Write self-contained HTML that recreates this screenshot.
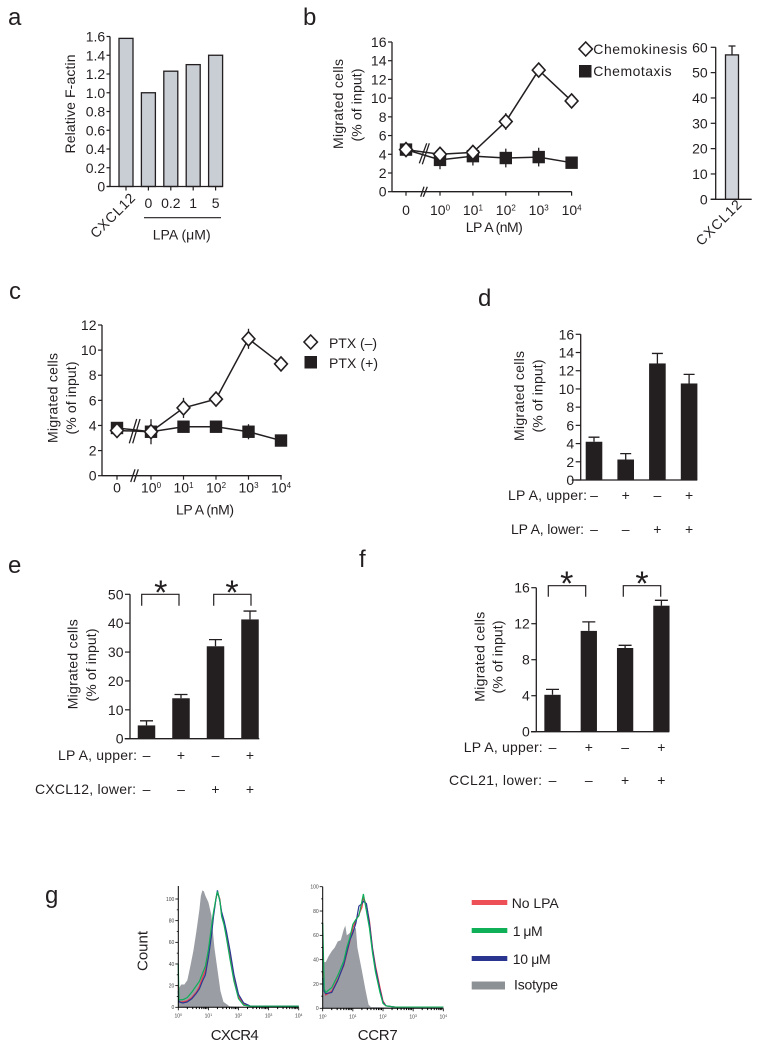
<!DOCTYPE html>
<html lang="en">
<head>
<meta charset="utf-8">
<title>LPA migration figure</title>
<style>
html,body{margin:0;padding:0;background:#fff;width:773px;height:1050px;overflow:hidden}
svg{display:block;font-family:"Liberation Sans",sans-serif;filter:blur(.35px)}
text{fill:#231f20;font-size:14px}
.letter{font-size:24px}
.mid{text-anchor:middle}
.end{text-anchor:end}
</style>
</head>
<body>
<svg id="figure" xmlns="http://www.w3.org/2000/svg" width="773" height="1050" viewBox="0 0 773 1050">
  <g id="panel-a">
    <text class="letter" x="8" y="25">a</text>
    <text class="mid" transform="translate(75,104) rotate(-90)" textLength="99">Relative F-actin</text>
    <line x1="144" x2="221" y1="217.7" y2="217.7" stroke="#231f20" stroke-width="1.2"/>
    <text class="mid" x="181.7" y="239.3" textLength="58">LPA (μM)</text>
  </g>
  <g id="panel-b">
    <text class="letter" x="303" y="25">b</text>
    <text class="mid" transform="translate(343,104) rotate(-90)" textLength="90">Migrated cells</text>
    <text class="mid" transform="translate(361.7,105) rotate(-90)" textLength="73">(% of input)</text>
    <text class="mid" x="494.3" y="232" textLength="57">LP A (nM)</text>
    <polygon points="585.7,42 592.4,49 585.7,56 579,49" fill="#fff" stroke="#231f20" stroke-width="1.6"/>
    <text x="593.3" y="54" textLength="94">Chemokinesis</text>
    <rect x="579" y="65" width="12.5" height="12.5" fill="#231f20"/>
    <text x="593.3" y="76" textLength="78.3">Chemotaxis</text>
  </g>
  <g id="panel-b-inset"></g>
  <g id="panel-c">
    <text class="letter" x="9" y="299">c</text>
    <text class="mid" transform="translate(57.3,398) rotate(-90)" textLength="90">Migrated cells</text>
    <text class="mid" transform="translate(76,398) rotate(-90)" textLength="73">(% of input)</text>
    <text class="mid" x="205" y="514.3" textLength="58">LP A (nM)</text>
    <polygon points="310.7,335 317.4,342 310.7,349 304,342" fill="#fff" stroke="#231f20" stroke-width="1.6"/>
    <text x="329" y="348" textLength="48">PTX (–)</text>
    <rect x="304.5" y="356" width="12.5" height="12.5" fill="#231f20"/>
    <text x="329" y="368" textLength="49">PTX (+)</text>
  </g>
  <g id="panel-d">
    <text class="letter" x="478" y="306">d</text>
    <text class="mid" transform="translate(524,396) rotate(-90)" textLength="90">Migrated cells</text>
    <text class="mid" transform="translate(542.7,396) rotate(-90)" textLength="73">(% of input)</text>
    <text class="end" x="587" y="500" textLength="79">LP A, upper:</text>
    <text class="end" x="584" y="534" textLength="73">LP A, lower:</text>
  </g>
  <g id="panel-e">
    <text class="letter" x="8" y="573">e</text>
    <text class="mid" transform="translate(77.7,664.3) rotate(-90)" textLength="90">Migrated cells</text>
    <text class="mid" transform="translate(96,665) rotate(-90)" textLength="73">(% of input)</text>
    <text class="end" x="137" y="760" textLength="79">LP A, upper:</text>
    <text class="end" x="136" y="794" textLength="101">CXCL12, lower:</text>
    <path d="M141.7,605.7V594.3H179V605.7" fill="none" stroke="#231f20" stroke-width="1.2"/>
    <path d="M213.7,605.7V594.3H251V605.7" fill="none" stroke="#231f20" stroke-width="1.2"/>
    <text class="mid" x="160.7" y="604" style="font-size:34px">*</text>
    <text class="mid" x="232" y="604" style="font-size:34px">*</text>
  </g>
  <g id="panel-f">
    <text class="letter" x="359" y="567">f</text>
    <text class="mid" transform="translate(484.3,656.7) rotate(-90)" textLength="90">Migrated cells</text>
    <text class="mid" transform="translate(502.7,657) rotate(-90)" textLength="73">(% of input)</text>
    <text class="end" x="542.7" y="752" textLength="79">LP A, upper:</text>
    <text class="end" x="542" y="785" textLength="93">CCL21, lower:</text>
    <path d="M548.3,596.7V585.7H585.7V596.7" fill="none" stroke="#231f20" stroke-width="1.2"/>
    <path d="M623.3,596.7V585.7H660.7V596.7" fill="none" stroke="#231f20" stroke-width="1.2"/>
    <text class="mid" x="566.7" y="595" style="font-size:34px">*</text>
    <text class="mid" x="642" y="595" style="font-size:34px">*</text>
  </g>
  <g id="panel-g">
    <text class="letter" x="45" y="903">g</text>
    <text class="mid" transform="translate(147.5,951) rotate(-90)" style="font-size:15px" textLength="40">Count</text>
    <text class="mid" x="234.7" y="1040" style="font-size:15px" textLength="48">CXCR4</text>
    <text class="mid" x="377.7" y="1040" style="font-size:15px" textLength="40">CCR7</text>
    <rect x="471.7" y="900" width="35.6" height="5" fill="#ee5058"/>
    <text x="511.7" y="908" textLength="47">No LPA</text>
    <rect x="471.7" y="928" width="35.6" height="5" fill="#0fb058"/>
    <text x="512.7" y="936" textLength="30">1 μM</text>
    <rect x="471.7" y="956" width="35.6" height="5" fill="#2a3590"/>
    <text x="512.7" y="964" textLength="38">10 μM</text>
    <rect x="471.7" y="981.5" width="33.3" height="8" fill="#8c9196"/>
    <text x="514" y="989.3" textLength="44">Isotype</text>
  </g>
</svg>
<script>
// ---------- Panel a ----------
const aCategories = ['CXCL12', '0', '0.2', '1', '5'];
const aValues = [1.58, 1.0, 1.23, 1.30, 1.40];
const aTicks = [0, 0.2, 0.4, 0.6, 0.8, 1.0, 1.2, 1.4, 1.6];
const aTickLabels = ['0', '0.2', '0.4', '0.6', '0.8', '1.0', '1.2', '1.4', '1.6'];
// ---------- Panel b ----------
const doseLabels = ['0', '10^0', '10^1', '10^2', '10^3', '10^4'];
const bTicks = [0, 2, 4, 6, 8, 10, 12, 14, 16];
const bChemokinesis = [4.5, 4.0, 4.2, 7.5, 13.0, 9.7];
const bChemokinesisErr = [0.4, 0.3, 0.4, 0.9, 0.5, 0.3];
const bChemotaxis = [4.5, 3.4, 3.8, 3.6, 3.7, 3.1];
const bChemotaxisErr = [0.4, 1.0, 1.0, 1.0, 1.0, 0.2];
// ---------- Panel b inset ----------
const insetTicks = [0, 10, 20, 30, 40, 50, 60];
const insetValues = [57];
const insetErr = [3.5];
const insetCategories = ['CXCL12'];
// ---------- Panel c ----------
const cTicks = [0, 2, 4, 6, 8, 10, 12];
const cPtxMinus = [3.6, 3.5, 5.4, 6.1, 10.9, 8.9];
const cPtxMinusErr = [0.3, 1.0, 0.8, 0.6, 0.8, 0.2];
const cPtxPlus = [3.8, 3.5, 3.9, 3.9, 3.5, 2.8];
const cPtxPlusErr = [0.2, 0.4, 0.3, 0.3, 0.6, 0.2];
// ---------- Panel d ----------
const dTicks = [0, 2, 4, 6, 8, 10, 12, 14, 16];
const dValues = [4.2, 2.25, 12.8, 10.6];
const dErr = [0.5, 0.65, 1.1, 1.0];
const dUpper = ['–', '+', '–', '+'];
const dLower = ['–', '–', '+', '+'];
// ---------- Panel e ----------
const eTicks = [0, 10, 20, 30, 40, 50];
const eValues = [4.6, 14, 32, 41.3];
const eErr = [1.6, 1.3, 2.3, 2.9];
const eUpper = ['–', '+', '–', '+'];
const eLower = ['–', '–', '+', '+'];
// ---------- Panel f ----------
const fTicks = [0, 4, 8, 12, 16];
const fValues = [4.1, 11.2, 9.3, 14];
const fErr = [0.6, 1.0, 0.3, 0.6];
const fUpper = ['–', '+', '–', '+'];
const fLower = ['–', '–', '+', '+'];
// ---------- Panel g: histograms (log10 intensity, % of max count) ----------
const histXTicks = [0, 1, 2, 3, 4];
const histYTicks = [0, 20, 40, 60, 80, 100];
const cxcr4IsoBins = [0, 0.1, 0.2, 0.3, 0.4, 0.5, 0.6, 0.7, 0.75, 0.8, 0.85, 0.9, 1.0, 1.1, 1.2, 1.3, 1.4, 1.5, 1.7, 2, 4];
const cxcr4Iso = [17, 21, 21, 25, 38, 52, 70, 90, 103, 108, 107, 103, 97, 85, 55, 35, 15, 5, 1, 0.5, 0];
const cxcr4Bins = [0, 0.02, 0.15, 0.3, 0.45, 0.6, 0.7, 0.8, 0.9, 1.0, 1.1, 1.17, 1.25, 1.3, 1.38, 1.44, 1.52, 1.6, 1.72, 1.85, 2.0, 2.17, 2.4, 4];
const cxcr4Red = [20, 5, 5, 6, 9, 14, 19, 27, 34, 50, 70, 86, 100, 106, 100, 85, 78, 66, 48, 26, 10, 3, 1, 1];
const cxcr4Blue = [15, 5, 4, 5, 8, 13, 17, 24, 30, 46, 66, 84, 100, 108, 98, 88, 80, 70, 52, 30, 12, 4, 1, 1];
const cxcr4Green = [40, 7, 7, 9, 14, 20, 24, 31, 38, 53, 74, 88, 100, 107, 99, 84, 76, 64, 44, 24, 8, 2, 1, 1];
const ccr7IsoBins = [0, 0.1, 0.2, 0.3, 0.4, 0.5, 0.6, 0.7, 0.75, 0.8, 0.9, 1.0, 1.1, 1.15, 1.3, 1.42, 1.52, 1.6, 4];
const ccr7Iso = [38, 38, 43, 47, 50, 55, 56, 65, 68, 60, 62, 65, 66, 50, 31, 15, 3, 1, 0];
const ccr7Bins = [0, 0.05, 0.1, 0.3, 0.5, 0.7, 0.8, 0.9, 1.0, 1.1, 1.2, 1.3, 1.35, 1.45, 1.55, 1.65, 1.75, 1.9, 2.0, 2.1, 2.4, 4];
const ccr7Red = [30, 15, 11, 14, 24, 35, 45, 55, 66, 72, 77, 83, 91, 85, 72, 50, 35, 17, 6, 2, 1, 1];
const ccr7Blue = [25, 14, 12, 13, 23, 36, 46, 56, 62, 70, 84, 86, 88, 86, 70, 49, 33, 15, 5, 2, 1, 1];
const ccr7Green = [70, 16, 13, 17, 27, 39, 50, 58, 69, 73, 76, 88, 94, 80, 66, 46, 30, 13, 4, 2, 1, 1];

const NS = 'http://www.w3.org/2000/svg';
const INK = '#231f20';

function add(parent, tag, attrs, content) {
  const node = document.createElementNS(NS, tag);
  for (const k in attrs) node.setAttribute(k, attrs[k]);
  if (content !== undefined) node.textContent = content;
  parent.appendChild(node);
  return node;
}
function linear(d0, d1, r0, r1) {
  return function (v) { return r0 + (v - d0) * (r1 - r0) / (d1 - d0); };
}
function band(start, step) {
  return function (i) { return start + i * step; };
}
function doseScale(zero, first, step) {
  return function (i) { return i === 0 ? zero : first + (i - 1) * step; };
}

function drawYAxis(group, x, yScale, ticks, labels, tickLen, gap) {
  const top = yScale(ticks[ticks.length - 1]);
  const axis = add(group, 'line', { x1: x, x2: x, y1: top, y2: yScale(ticks[0]), stroke: INK, 'stroke-width': 1.3 });
  
  
  ticks.forEach(function (t, i) {
    const mark = add(group, 'line', { x1: x - tickLen, x2: x, y1: yScale(t), y2: yScale(t), stroke: INK, 'stroke-width': 1.2 });
    
    
    const lab = add(group, 'text', { x: x - tickLen - gap, y: yScale(t) + 5, class: 'end' }, labels[i]);
    
    
  });
}
function drawXAxisLine(group, x0, x1, y) {
  const axis = add(group, 'line', { x1: x0, x2: x1, y1: y, y2: y, stroke: INK, 'stroke-width': 1.3 });
  
  
}
function drawBars(group, values, errs, xScale, yScale, width, fill, stroke, cap) {
  const base = yScale(0);
  values.forEach(function (v, i) {
    const cx = xScale(i);
    if (errs) {
      const err = errs[i];
      const whisker = add(group, 'path', { d: 'M' + cx + ',' + yScale(v) + 'V' + yScale(v + err) + 'M' + (cx - cap / 2) + ',' + yScale(v + err) + 'H' + (cx + cap / 2), fill: 'none', stroke: INK, 'stroke-width': 1.3 });
      
      
    }
    const bar = add(group, 'rect', { x: cx - width / 2, y: yScale(v), width: width, height: base - yScale(v), fill: fill, stroke: stroke || 'none', 'stroke-width': stroke ? 1.3 : 0 });
    
    
  });
}
function drawSigns(group, signs, xScale, y) {
  signs.forEach(function (s, i) {
    const sign = add(group, 'text', { x: xScale(i), y: y, class: 'mid' }, s);
    
    
  });
}
function drawDoseTicks(group, labels, xScale, axisY, labelY) {
  labels.forEach(function (label, i) {
    const mark = add(group, 'line', { x1: xScale(i), x2: xScale(i), y1: axisY, y2: axisY + 4, stroke: INK, 'stroke-width': 1.2 });
    
    
    const parts = label.split('^');
    const lab = add(group, 'text', { x: xScale(i), y: labelY, class: 'mid' }, parts[0]);
    
    
    if (parts[1] !== undefined) {
      const sup = add(lab, 'tspan', { dy: -4.5, style: 'font-size:8px' }, parts[1]);
      
      
    }
  });
}
function drawBreak(group, d) {
  const mark = add(group, 'path', { d: d, fill: 'none', stroke: INK, 'stroke-width': 1.3 });
  
  
}
function drawSeriesLine(group, values, xScale, yScale) {
  const line = add(group, 'polyline', { points: values.map(function (v, i) { return xScale(i) + ',' + yScale(v); }).join(' '), fill: 'none', stroke: INK, 'stroke-width': 1.5 });
  
  
}
function drawErrs(group, values, errs, xScale, yScale) {
  values.forEach(function (v, i) {
    const whisker = add(group, 'line', { x1: xScale(i), x2: xScale(i), y1: yScale(v - errs[i]), y2: yScale(v + errs[i]), stroke: INK, 'stroke-width': 1.3 });
    
    
  });
}
function drawSquares(group, values, xScale, yScale) {
  values.forEach(function (v, i) {
    const sq = add(group, 'rect', { x: xScale(i) - 6.2, y: yScale(v) - 6.2, width: 12.4, height: 12.4, fill: INK });
    
    
  });
}
function drawDiamonds(group, values, xScale, yScale) {
  values.forEach(function (v, i) {
    const x = xScale(i), y = yScale(v);
    const d = add(group, 'polygon', { points: x + ',' + (y - 7) + ' ' + (x + 6.4) + ',' + y + ' ' + x + ',' + (y + 7) + ' ' + (x - 6.4) + ',' + y, fill: '#fff', stroke: INK, 'stroke-width': 1.6 });
    
    
  });
}
function histPath(bins, values, xScale, yScale) {
  return bins.map(function (b, i) { return (i ? 'L' : 'M') + xScale(b) + ',' + yScale(values[i]); }).join('');
}
function drawHistogram(group, xScale, yScale, isoBins, iso, bins, red, blue, green) {
  const area = add(group, 'path', { d: histPath(isoBins, iso, xScale, yScale) + 'L' + xScale(4) + ',' + yScale(0) + 'L' + xScale(0) + ',' + yScale(0) + 'Z', fill: '#9a9ea4' });
  
  
  const redLine = add(group, 'path', { d: histPath(bins, red, xScale, yScale), fill: 'none', stroke: '#e8384a', 'stroke-width': 1.2 });
  
  
  const blueLine = add(group, 'path', { d: histPath(bins, blue, xScale, yScale), fill: 'none', stroke: '#2b3a94', 'stroke-width': 1.2 });
  
  
  const greenLine = add(group, 'path', { d: histPath(bins, green, xScale, yScale), fill: 'none', stroke: '#0fae5a', 'stroke-width': 1.2 });
  
  
}
function drawHistAxes(group, xScale, yScale, axisTop) {
  const x0 = xScale(0), x1 = xScale(4), y0 = yScale(0);
  const yAxis = add(group, 'line', { x1: x0, x2: x0, y1: axisTop, y2: y0, stroke: '#000', 'stroke-width': 1 });
  
  
  const xAxis = add(group, 'line', { x1: x0, x2: x1, y1: y0, y2: y0, stroke: '#000', 'stroke-width': 1 });
  
  
  histYTicks.forEach(function (t) {
    const mark = add(group, 'line', { x1: x0 - 3, x2: x0, y1: yScale(t), y2: yScale(t), stroke: '#000', 'stroke-width': 0.8 });
    
    
    const lab = add(group, 'text', { x: x0 - 4, y: yScale(t) + 1.8, class: 'end', style: 'font-size:5px;fill:#444' }, String(t));
    
    
    if (t < 100) {
      const minor = add(group, 'line', { x1: x0 - 1.5, x2: x0, y1: yScale(t + 10), y2: yScale(t + 10), stroke: '#000', 'stroke-width': 0.8 });
      
      
    }
  });
  histXTicks.forEach(function (t) {
    const mark = add(group, 'line', { x1: xScale(t), x2: xScale(t), y1: y0, y2: y0 + 3, stroke: '#000', 'stroke-width': 0.8 });
    
    
    const lab = add(group, 'text', { x: xScale(t), y: y0 + 10, class: 'mid', style: 'font-size:5px;fill:#444' }, '10');
    
    
    const sup = add(lab, 'tspan', { dy: -1.5, style: 'font-size:3.5px' }, String(t));
    
    
    if (t < 4) {
      [0.3, 0.48, 0.6, 0.7, 0.78, 0.85, 0.9, 0.95].forEach(function (f) {
        const minor = add(group, 'line', { x1: xScale(t + f), x2: xScale(t + f), y1: y0, y2: y0 + 1.8, stroke: '#000', 'stroke-width': 1 });
        
        
      });
    }
  });
}

// ---- Panel a render ----
(function () {
  const g = document.getElementById('panel-a');
  const y = linear(0, 1.6, 186.5, 36.5);
  const x = band(126, 22.4);
  drawBars(g, aValues, null, x, y, 14, '#c9cdd4', INK, 0);
  drawYAxis(g, 110, y, aTicks, aTickLabels, 3.5, 1.3);
  drawXAxisLine(g, 107, 222.7, 186.5);
  aCategories.forEach(function (c, i) {
    const mark = add(g, 'line', { x1: x(i), x2: x(i), y1: 186.5, y2: 190.5, stroke: INK, 'stroke-width': 1.2 });
    
    
    if (i === 0) {
      const rot = add(g, 'text', { transform: 'translate(116,219) rotate(-45)', class: 'mid', textLength: 56.6 }, c);
      
      
    } else {
      const lab = add(g, 'text', { x: x(i), y: 208, class: 'mid' }, c);
      
      
    }
  });
})();

// ---- Panel b render ----
(function () {
  const g = document.getElementById('panel-b');
  const y = linear(0, 16, 191.7, 42);
  const x = doseScale(406, 440, 32.9);
  drawYAxis(g, 392, y, bTicks, bTicks.map(String), 4, 1.5);
  drawXAxisLine(g, 392, 571.7, 191.7);
  drawDoseTicks(g, doseLabels, x, 191.7, 215);
  drawBreak(g, 'M420.7,196.7L424,186.7M423.3,196.7L427.3,186.7');
  drawErrs(g, bChemotaxis, bChemotaxisErr, x, y);
  drawSeriesLine(g, bChemotaxis, x, y);
  drawSquares(g, bChemotaxis, x, y);
  drawBreak(g, 'M419.3,163.3L426.7,143.3M422.3,164.3L429.3,143.3');
  drawErrs(g, bChemokinesis, bChemokinesisErr, x, y);
  drawSeriesLine(g, bChemokinesis, x, y);
  drawDiamonds(g, bChemokinesis, x, y);
})();

// ---- Panel b inset render ----
(function () {
  const g = document.getElementById('panel-b-inset');
  const y = linear(0, 60, 199.3, 47.3);
  const x = band(732, 0);
  drawBars(g, insetValues, insetErr, x, y, 13, '#d2d6dc', INK, 7);
  drawYAxis(g, 715.7, y, insetTicks, insetTicks.map(String), 5, 3);
  drawXAxisLine(g, 710.7, 751.7, 199.3);
  insetCategories.forEach(function (c) {
    const rot = add(g, 'text', { transform: 'translate(722,226) rotate(-45)', class: 'mid', textLength: 58 }, c);
    
    
  });
})();

// ---- Panel c render ----
(function () {
  const g = document.getElementById('panel-c');
  const y = linear(0, 12, 475.7, 325);
  const x = doseScale(117, 151, 32.5);
  drawYAxis(g, 102, y, cTicks, cTicks.map(String), 4, 1.5);
  drawXAxisLine(g, 102, 281.7, 475.7);
  drawDoseTicks(g, doseLabels, x, 475.7, 492.7);
  drawBreak(g, 'M130.7,482L135,469.3M134,482L138.3,469.3');
  drawErrs(g, cPtxPlus, cPtxPlusErr, x, y);
  drawSeriesLine(g, cPtxPlus, x, y);
  drawSquares(g, cPtxPlus, x, y);
  drawBreak(g, 'M129.3,443.3L136.7,419M132.7,443.3L140,419');
  drawErrs(g, cPtxMinus, cPtxMinusErr, x, y);
  drawSeriesLine(g, cPtxMinus, x, y);
  drawDiamonds(g, cPtxMinus, x, y);
})();

// ---- Panel d render ----
(function () {
  const g = document.getElementById('panel-d');
  const y = linear(0, 16, 480, 334.3);
  const x = band(594, 31.7);
  drawBars(g, dValues, dErr, x, y, 16.6, INK, null, 11);
  drawYAxis(g, 580.7, y, dTicks, dTicks.map(String), 5, 1.5);
  drawXAxisLine(g, 571.7, 697.3, 480);
  drawSigns(g, dUpper, x, 500);
  drawSigns(g, dLower, x, 534);
})();

// ---- Panel e render ----
(function () {
  const g = document.getElementById('panel-e');
  const y = linear(0, 50, 738.7, 594.3);
  const x = band(146.5, 34.5);
  drawBars(g, eValues, eErr, x, y, 17.5, INK, null, 13);
  drawYAxis(g, 130, y, eTicks, eTicks.map(String), 5, 1.5);
  drawXAxisLine(g, 124.7, 259.3, 738.7);
  drawSigns(g, eUpper, x, 760);
  drawSigns(g, eLower, x, 794);
})();

// ---- Panel f render ----
(function () {
  const g = document.getElementById('panel-f');
  const y = linear(0, 16, 731.7, 587.7);
  const x = band(552.5, 36.3);
  drawBars(g, fValues, fErr, x, y, 16.3, INK, null, 13);
  drawYAxis(g, 536.3, y, fTicks, fTicks.map(String), 5, 1.5);
  drawXAxisLine(g, 531, 669.3, 731.7);
  drawSigns(g, fUpper, x, 752);
  drawSigns(g, fLower, x, 785);
})();

// ---- Panel g render ----
(function () {
  const g = document.getElementById('panel-g');
  const x1 = linear(0, 4, 178.3, 298.7);
  const y1 = linear(0, 100, 1007.3, 899);
  drawHistogram(g, x1, y1, cxcr4IsoBins, cxcr4Iso, cxcr4Bins, cxcr4Red, cxcr4Blue, cxcr4Green);
  drawHistAxes(g, x1, y1, 886);
  const x2 = linear(0, 4, 322.7, 443.3);
  const y2 = linear(0, 100, 1008.3, 886.7);
  drawHistogram(g, x2, y2, ccr7IsoBins, ccr7Iso, ccr7Bins, ccr7Red, ccr7Blue, ccr7Green);
  drawHistAxes(g, x2, y2, 886.7);
})();
</script>
</body>
</html>
